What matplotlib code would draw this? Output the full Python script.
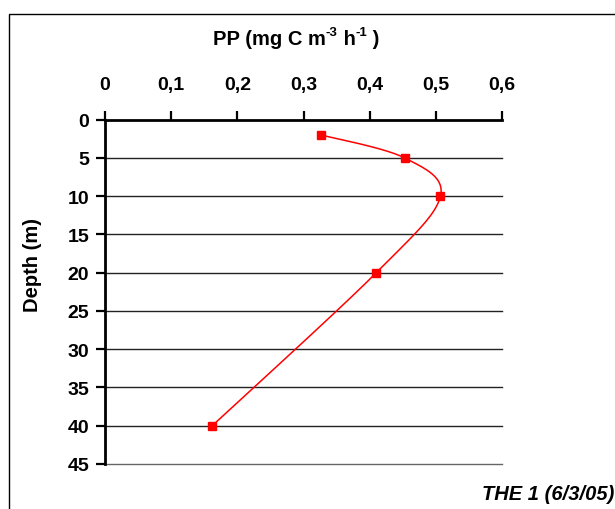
import numpy as np
import matplotlib
matplotlib.use('Agg')
import matplotlib.pyplot as plt
from matplotlib.patches import Rectangle

# Data
depth = [2, 5, 10, 20, 40]
pp = [0.327, 0.453, 0.507, 0.41, 0.162]
x_ticks = [0, 0.1, 0.2, 0.3, 0.4, 0.5, 0.6]
x_tick_labels = ['0', '0,1', '0,2', '0,3', '0,4', '0,5', '0,6']
y_ticks = [0, 5, 10, 15, 20, 25, 30, 35, 40, 45]


def smooth_curve(xs, ys, sx, sy, n=40):
    """Excel-like smoothed line (cubic Bezier, Catmull-Rom controls) in screen-scaled space"""
    p = np.column_stack([np.asarray(xs) * sx, np.asarray(ys) * sy])
    p = np.vstack([p[0], p, p[-1]])
    out = []
    t = np.linspace(0, 1, n)[:, None]
    for i in range(1, len(p) - 2):
        p0, p1, p2, p3 = p[i - 1], p[i], p[i + 1], p[i + 2]
        c1 = p1 + (p2 - p0) / 6
        c2 = p2 - (p3 - p1) / 6
        seg = ((1 - t) ** 3) * p1 + 3 * ((1 - t) ** 2) * t * c1 + 3 * (1 - t) * t ** 2 * c2 + t ** 3 * p2
        out.append(seg)
    out = np.vstack(out)
    return out[:, 0] / sx, out[:, 1] / sy


plt.rcParams['font.family'] = ['Liberation Sans', 'DejaVu Sans']

fig = plt.figure(figsize=(6.15, 5.1), dpi=100)
ax = fig.add_axes([105 / 615, 45 / 510, 397 / 615, 344.3 / 510])

# figure frame (left and top edges visible)
fig.patches.append(Rectangle((8.7 / 615, -0.1), 1.2, (510 - 14.7) / 510 + 0.1,
                             transform=fig.transFigure, fill=False,
                             edgecolor='black', linewidth=1.0))

ax.set_xlim(0, 0.6)
ax.set_ylim(45, 0)

for y in y_ticks[1:]:
    ax.axhline(y, color='#222222' if y < 45 else '#666666', linewidth=1.0,
               zorder=1, clip_on=False)

sx_c, sy_c = smooth_curve(pp, depth, 660, 7.65)
ax.plot(sx_c, sy_c, color='#ff0000', linewidth=1.1, zorder=3)
ax.plot(pp, depth, linestyle='none', marker='s', markersize=6.2,
        color='#ff0000', zorder=4)

ax.xaxis.tick_top()
ax.set_xticks(x_ticks)
ax.set_xticklabels(x_tick_labels)
ax.set_yticks(y_ticks)
ax.tick_params(axis='both', direction='out', length=6.5, width=1.6,
               labelsize=14)
ax.tick_params(axis='x', pad=12.5)
ax.tick_params(axis='y', pad=5)
for lab in ax.get_xticklabels() + ax.get_yticklabels():
    lab.set_fontweight('bold')

for s in ['right', 'bottom']:
    ax.spines[s].set_visible(False)
for s in ['left', 'top']:
    ax.spines[s].set_linewidth(2.0)

# title with hyphen superscripts, built from pieces
big = dict(fontsize=14.5, fontweight='bold')
small = dict(fontsize=9.5, fontweight='bold')
t1 = fig.text(213 / 615, 1 - 49 / 510, 'PP (mg C m', ha='left', va='bottom', **big)
t2 = ax.annotate('-3', xy=(1, 0.55), xycoords=t1, ha='left', va='bottom',
                 annotation_clip=False, **small)
t3 = ax.annotate(' h', xy=(1, 0), xycoords=(t2, t1), ha='left', va='bottom',
                 annotation_clip=False, **big)
t4 = ax.annotate('-1', xy=(1, 0.55), xycoords=(t3, t1), ha='left', va='bottom',
                 annotation_clip=False, **small)
ax.annotate(' )', xy=(1, 0), xycoords=(t4, t1), ha='left', va='bottom',
            annotation_clip=False, **big)

fig.text(32 / 615, 1 - 265 / 510, 'Depth (m)', rotation=90,
         ha='center', va='center', fontsize=14.5, fontweight='bold')
fig.text(614 / 615, 1 - 495 / 510, 'THE 1 (6/3/05)', ha='right', va='center',
         fontsize=14.5, fontweight='bold', fontstyle='italic')

fig.savefig('out.png', dpi=100)
